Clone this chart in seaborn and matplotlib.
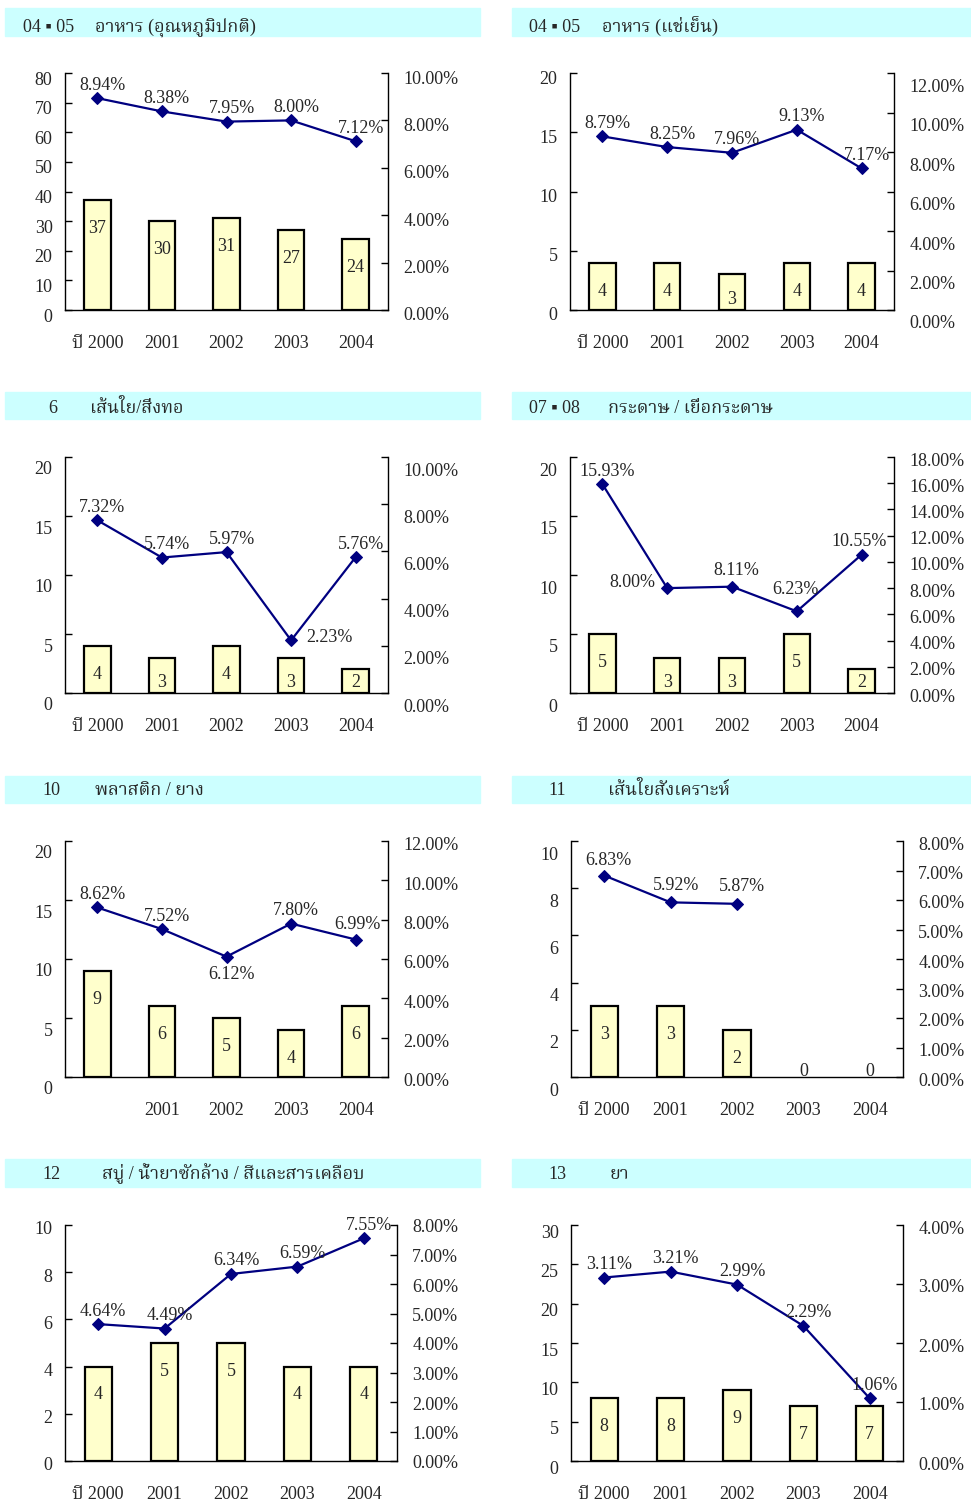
import matplotlib
matplotlib.use('Agg')
import matplotlib.pyplot as plt
import matplotlib.transforms as mtransforms
from matplotlib.patches import Rectangle
from matplotlib import font_manager
import seaborn as sns
import numpy as np
import pandas as pd

# --- data ---
years = ['ปี 2000', '2001', '2002', '2003', '2004']
years_p5 = ['', '2001', '2002', '2003', '2004']

codes = ['04 \u25aa 05', '04 \u25aa 05', '6', '07 \u25aa 08', '10', '11', '12', '13']
titles = ['อาหาร (อุณหภูมิปกติ)', 'อาหาร (แช่เย็น)', 'เส้นใย/สิ่งทอ',
          'กระดาษ / เยื่อกระดาษ', 'พลาสติก / ยาง', 'เส้นใยสังเคราะห์',
          'สบู่ / น้ำยาซักล้าง / สีและสารเคลือบ', 'ยา']

counts = [
    [37, 30, 31, 27, 24],
    [4, 4, 3, 4, 4],
    [4, 3, 4, 3, 2],
    [5, 3, 3, 5, 2],
    [9, 6, 5, 4, 6],
    [3, 3, 2, 0, 0],
    [4, 5, 5, 4, 4],
    [8, 8, 9, 7, 7],
]
shares = [
    [8.94, 8.38, 7.95, 8.00, 7.12],
    [8.79, 8.25, 7.96, 9.13, 7.17],
    [7.32, 5.74, 5.97, 2.23, 5.76],
    [15.93, 8.00, 8.11, 6.23, 10.55],
    [8.62, 7.52, 6.12, 7.80, 6.99],
    [6.83, 5.92, 5.87, np.nan, np.nan],
    [4.64, 4.49, 6.34, 6.59, 7.55],
    [3.11, 3.21, 2.99, 2.29, 1.06],
]

left_max = [80, 20, 20, 20, 20, 10, 10, 30]
left_step = [10, 5, 5, 5, 5, 2, 2, 5]
right_max = [10, 12, 10, 18, 12, 8, 8, 4]
right_step = [2, 2, 2, 2, 2, 1, 1, 1]

# --- layout (pixels) ---
W, H = 971, 1511
axes_px = [(65, 388, 73, 310), (570, 894, 73, 310),
           (65, 388, 457, 693), (570, 894, 457, 693),
           (65, 388, 841, 1077), (571, 903, 841, 1077),
           (65, 397, 1225, 1461), (571, 903, 1225, 1461)]
header_y = [(8, 36, 32), (392, 419, 413), (776, 803, 795), (1159, 1187, 1179)]
code_x = [23, 529, 48, 529, 42, 548, 42, 548]
title_x = [95, 602, 90, 608, 95, 608, 102, 610]
left_shift = [5, 4, 11, 12, 11, 12, 3, 6]
right_shift = [4, 12, 12, 2, 3, 2, 1, 2]

# label offsets for percentage labels (px, right / up)
default_off = (5, 13)
label_off = {(2, 3): (38, 3), (3, 1): (-35, 6), (3, 2): (4, 16), (3, 3): (-1, 22),
             (3, 4): (-3, 13), (4, 2): (5, -18), (4, 4): (2, 15),
             (5, 0): (4, 15), (5, 1): (5, 17), (5, 2): (5, 17)}

BAR = '#FFFFCC'
NAVY = '#000080'
HEAD = '#CCFFFF'


def thai_family():
    try:
        from fontTools.ttLib import TTFont
    except Exception:
        return None
    found = []
    for fe in font_manager.fontManager.ttflist:
        try:
            cmap = TTFont(fe.fname, fontNumber=0, lazy=True).getBestCmap()
        except Exception:
            continue
        if cmap and 0x0E01 in cmap and 0x0E35 in cmap:
            found.append(fe.name)
    if not found:
        return None
    for key in ('Serif Thai', 'Norasi', 'FreeSerif', 'Thai', ''):
        for n in found:
            if key in n:
                return n


sns.set_style('white')
thai = thai_family()
fams = ['Liberation Serif'] + ([thai] if thai else []) + ['DejaVu Sans']
plt.rcParams['font.family'] = fams
plt.rcParams['font.size'] = 13

fig = plt.figure(figsize=(W / 100, H / 100), dpi=100)

# header bars
for r, (y0, y1, yb) in enumerate(header_y):
    for c, (x0, x1) in enumerate([(5, 480), (512, 971)]):
        fig.patches.append(Rectangle((x0 / W, 1 - y1 / H), (x1 - x0) / W, (y1 - y0) / H,
                                     transform=fig.transFigure, color=HEAD, zorder=0))
        i = r * 2 + c
        fig.text(code_x[i] / W, 1 - yb / H, codes[i], va='baseline', ha='left', fontsize=13)
        fig.text(title_x[i] / W, 1 - yb / H, titles[i], va='baseline', ha='left', fontsize=13)

for i in range(8):
    x0, x1, yt, yb = axes_px[i]
    ax = fig.add_axes([x0 / W, 1 - yb / H, (x1 - x0) / W, (yb - yt) / H])
    df = pd.DataFrame({'year': range(5), 'n': counts[i], 'share': shares[i]})

    sns.barplot(data=df, x='year', y='n', ax=ax, color=BAR, saturation=1,
                edgecolor='black', linewidth=1.6, width=0.41)
    # empty years show only their "0" label
    for p in ax.patches:
        if p.get_height() == 0:
            p.set_visible(False)
    ymax = left_max[i]
    ax.set_ylim(0, ymax)
    ax.set_xlim(-0.5, 4.5)
    ax.set_yticks(np.arange(0, ymax + 0.1, left_step[i]))
    ax.set_yticklabels([f'{v:g}' for v in np.arange(0, ymax + 0.1, left_step[i])])
    ax.set_xticks(range(5))
    ax.set_xticklabels(years_p5 if i == 4 else years)
    ax.set_xticks([0.5, 1.5, 2.5, 3.5], minor=True)
    ax.tick_params(axis='x', which='major', length=0, pad=18, labelsize=13)
    ax.tick_params(axis='x', which='minor', direction='in', length=4, width=1, color='black')
    ax.tick_params(axis='y', direction='in', length=5, width=1, color='black', pad=9, labelsize=13)
    ax.set_xlabel('')
    ax.set_ylabel('')
    for s in ['top', 'right']:
        ax.spines[s].set_visible(False)
    for s in ['left', 'bottom']:
        ax.spines[s].set_color('black')
        ax.spines[s].set_linewidth(1)

    # bar values
    for k, h in enumerate(counts[i]):
        yy = max(h - 0.12 * ymax, 0.045 * ymax) if h > 0 else 0.025 * ymax
        ax.text(k, yy, f'{h}', ha='center', va='center', fontsize=13, zorder=5)

    ax2 = ax.twinx()
    sns.lineplot(data=df, x='year', y='share', ax=ax2, color=NAVY, marker='D',
                 markersize=6, markeredgecolor=NAVY, linewidth=1.6)
    rmax = right_max[i]
    ax2.set_ylim(0, rmax)
    rt = np.arange(0, rmax + 0.01, right_step[i])
    ax2.set_yticks(rt)
    ax2.set_yticklabels([f'{v:.2f}%' for v in rt])
    ax2.tick_params(axis='y', direction='in', length=5, width=1, color='black', pad=11, labelsize=13)
    ax2.set_ylabel('')
    ax2.set_xlabel('')
    for s in ['top', 'left', 'bottom']:
        ax2.spines[s].set_visible(False)
    ax2.spines['right'].set_color('black')
    ax2.spines['right'].set_linewidth(1)
    ax2.set_xlim(-0.5, 4.5)

    for k, v in enumerate(shares[i]):
        if np.isnan(v):
            continue
        dx, dy = label_off.get((i, k), default_off)
        ax2.annotate(f'{v:.2f}%', (k, v), xytext=(dx, dy), textcoords='offset pixels',
                     ha='center', va='center', fontsize=13)

    # scanned labels sit a little below their ticks
    for t in ax.yaxis.get_major_ticks():
        t.label1.set_transform(t.label1.get_transform() +
                               mtransforms.ScaledTranslation(0, -left_shift[i] / 100, fig.dpi_scale_trans))
    for t in ax2.yaxis.get_major_ticks():
        t.label2.set_transform(t.label2.get_transform() +
                               mtransforms.ScaledTranslation(0, -right_shift[i] / 100, fig.dpi_scale_trans))

fig.savefig('out.png', dpi=100)
